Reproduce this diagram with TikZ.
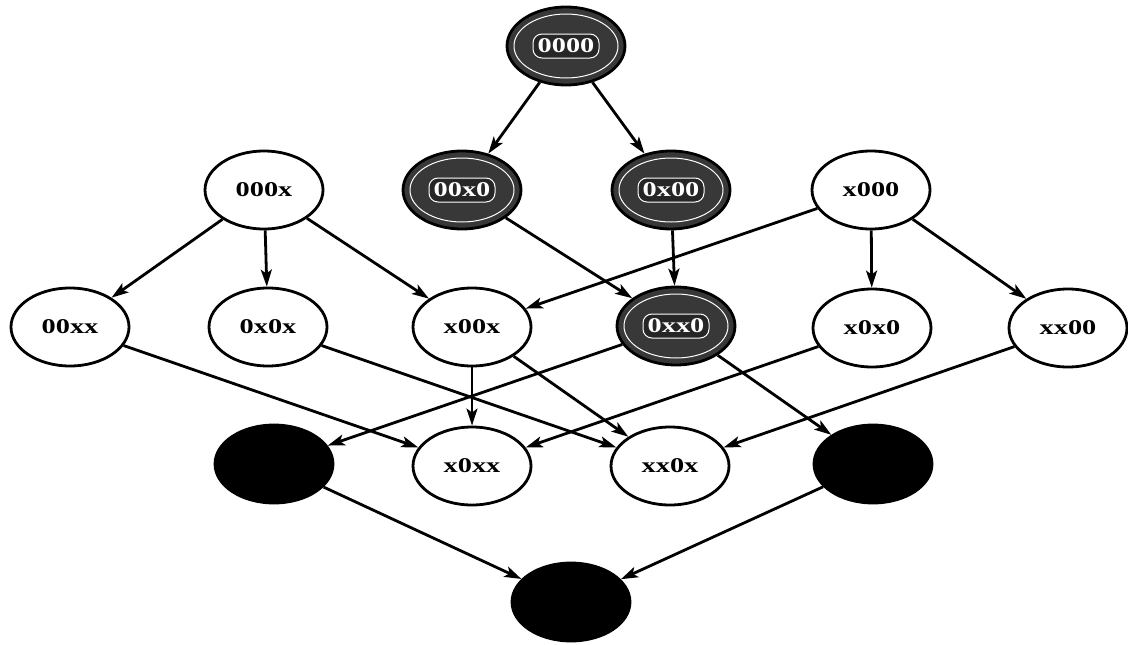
\documentclass[tikz,border=0pt]{standalone}
\usepackage{fontspec}
\setmainfont{Liberation Serif}
\usetikzlibrary{shapes.geometric,arrows.meta}

\tikzset{
  state/.style={ellipse, draw=black, line width=2.8pt, fill=white,
    minimum width=118pt, minimum height=78pt, inner sep=0pt,
    font=\fontsize{21}{24}\selectfont\bfseries},
  shaded/.style={state, fill=black!78, text=white,
    path picture={
      \draw[white, line width=1pt]
        (path picture bounding box.center) ellipse (52pt and 32pt);
      \draw[white, line width=1pt, fill=black!85, rounded corners=9pt]
        ([shift={(-33pt,-12pt)}]path picture bounding box.center)
        rectangle ([shift={(33pt,12pt)}]path picture bounding box.center);}},
  solid/.style={state, fill=black},
  link/.style={line width=2.8pt, -{Stealth[length=17pt,width=11pt,inset=4pt]}},
}
\newcommand{\lbl}[1]{\scalebox{1.35}[1]{#1}}

\begin{document}
\begin{tikzpicture}[x=1pt, y=-1pt]
  \useasboundingbox (0,0) rectangle (1128,645);

  % top
  \node[shaded] (n0000) at (566,46) {\lbl{0000}};

  % one free position
  \node[state]  (n000x) at (264,190) {\lbl{000x}};
  \node[shaded] (n00x0) at (462,190) {\lbl{00x0}};
  \node[shaded] (n0x00) at (671,190) {\lbl{0x00}};
  \node[state]  (nx000) at (871,190) {\lbl{x000}};

  % two free positions
  \node[state]  (n00xx) at (70,327)   {\lbl{00xx}};
  \node[state]  (n0x0x) at (268,327)  {\lbl{0x0x}};
  \node[state]  (nx00x) at (472,327)  {\lbl{x00x}};
  \node[shaded] (n0xx0) at (676,326)  {\lbl{0xx0}};
  \node[state]  (nx0x0) at (872,328)  {\lbl{x0x0}};
  \node[state]  (nxx00) at (1068,328) {\lbl{xx00}};

  % three free positions
  \node[solid] (b1)    at (274,464) {};
  \node[state] (nx0xx) at (472,466) {\lbl{x0xx}};
  \node[state] (nxx0x) at (670,466) {\lbl{xx0x}};
  \node[solid] (b2)    at (873,464) {};

  % bottom
  \node[solid] (b0) at (571,602) {};

  % connectors
  \draw[link] (n0000) -- (n00x0);
  \draw[link] (n0000) -- (n0x00);

  \draw[link] (n000x) -- (n00xx);
  \draw[link] (n000x) -- (n0x0x);
  \draw[link] (n000x) -- (nx00x);
  \draw[link] (n00x0) -- (n0xx0);
  \draw[link] (n0x00) -- (n0xx0);
  \draw[link] (nx000) -- (nx00x);
  \draw[link] (nx000) -- (nx0x0);
  \draw[link] (nx000) -- (nxx00);

  \draw[link] (n00xx) -- (nx0xx);
  \draw[link] (n0x0x) -- (nxx0x);
  \draw[link] (nx00x) -- (nx0xx);
  \draw[link] (nx00x) -- (nxx0x);
  \draw[link] (n0xx0) -- (b1);
  \draw[link] (n0xx0) -- (b2);
  \draw[link] (nx0x0) -- (nx0xx);
  \draw[link] (nxx00) -- (nxx0x);

  \draw[link] (b1) -- (b0);
  \draw[link] (b2) -- (b0);
\end{tikzpicture}
\end{document}
